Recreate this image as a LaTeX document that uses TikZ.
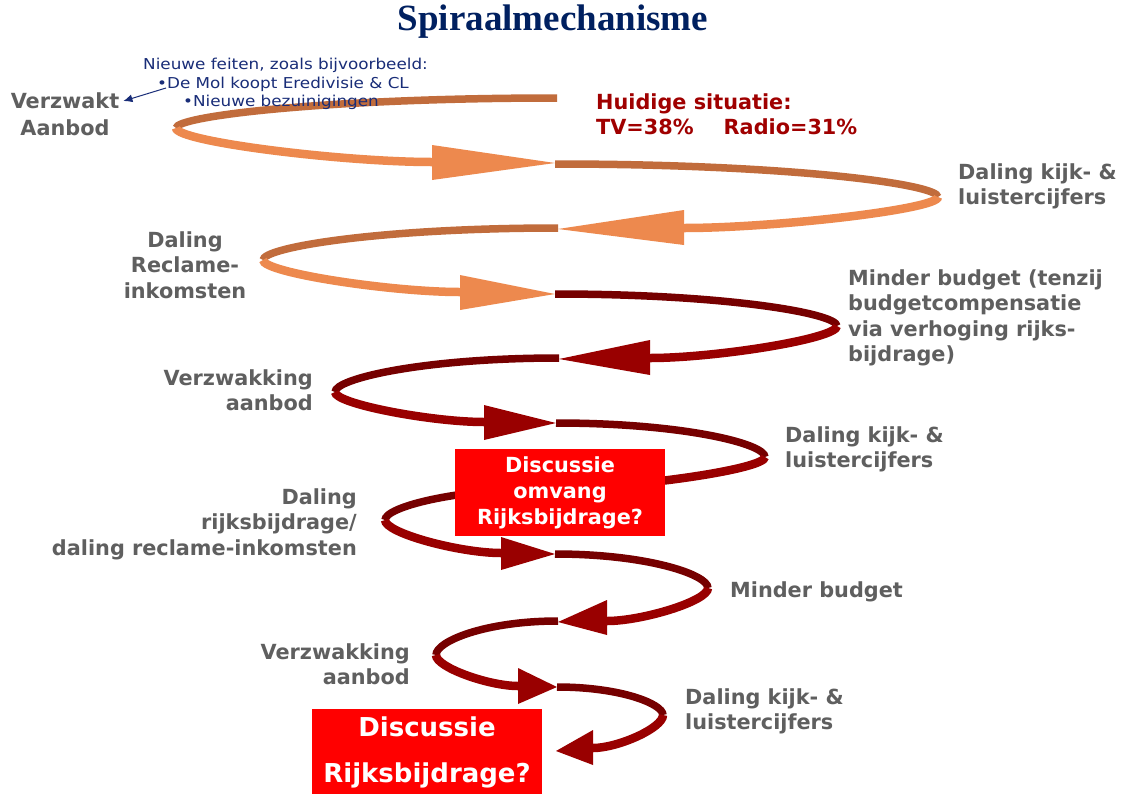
\documentclass[tikz,border=0pt]{standalone}
\usepackage{fontspec}
\usetikzlibrary{arrows.meta}
\newfontfamily\verd{DejaVu Sans}
\newfontfamily\annf{DejaVu Sans}[FakeStretch=1.12]
\newfontfamily\titf{Liberation Serif}
\definecolor{orF}{RGB}{237,137,78}
\definecolor{orB}{RGB}{193,108,60}
\definecolor{rdF}{RGB}{153,0,0}
\definecolor{rdB}{RGB}{118,0,0}
\definecolor{lblgray}{RGB}{95,95,95}
\definecolor{titblue}{RGB}{0,32,96}
\definecolor{annblue}{RGB}{25,45,120}
\definecolor{huidred}{RGB}{160,0,0}
\definecolor{boxred}{RGB}{255,0,0}
\tikzset{
  backband/.style={line width=7.5pt},
  frontband/.style={line width=8.5pt},
  lbl/.style={font=\verd\bfseries\fontsize{20.8}{25.5}\selectfont, text=lblgray, inner sep=0pt},
  redbox/.style={fill=boxred, text=white, align=center, inner sep=0pt,
    font=\verd\bfseries\fontsize{20.8}{26}\selectfont},
  ann/.style={font=\annf\fontsize{15}{18.5}\selectfont, text=annblue, inner sep=0pt},
  annarrow/.style={draw=annblue, line width=1pt, -{Latex[length=9pt,width=8pt]}},
  titlestyle/.style={font=\titf\bfseries\fontsize{37}{40}\selectfont, text=titblue, inner sep=0pt}
}
\begin{document}
\begin{tikzpicture}[x=1pt,y=-1pt]
\useasboundingbox (0,0) rectangle (1125,793);
\fill[white] (0,0) rectangle (1125,793);

% Loop 1 (orange, left)
\draw[backband, draw=orB] (557,98) .. controls (328.4,98) and (176,116) .. (176,128);
\draw[frontband, draw=orF] (176,128) .. controls (176,141.6) and (342,162) .. (432,162);
\fill[orF] (432,145) -- (555,163) -- (432,180) -- cycle;
% Loop 2 (orange, right)
\draw[backband, draw=orB] (555,164) .. controls (784.8,164) and (938,183.8) .. (938,197);
\draw[frontband, draw=orF] (938,197) .. controls (938,209.4) and (773,228) .. (684,228);
\fill[orF] (684,210) -- (558,229) -- (684,245) -- cycle;
% Loop 3 (orange, left)
\draw[backband, draw=orB] (558,228) .. controls (381,228) and (263,247.2) .. (263,260);
\draw[frontband, draw=orF] (263,260) .. controls (263,272.8) and (391,292) .. (460,292);
\fill[orF] (460,275) -- (555,294) -- (460,310) -- cycle;
% Loop 4 (red, right)
\draw[backband, draw=rdB] (555,294) .. controls (724.2,294) and (837,313.2) .. (837,326);
\draw[frontband, draw=rdF] (837,326) .. controls (837,338.8) and (715,358) .. (650,358);
\fill[rdF] (650,340) -- (559,359) -- (650,375) -- cycle;
% Loop 5 (red, left)
\draw[backband, draw=rdB] (559,358) .. controls (424.6,358) and (335,378.4) .. (335,392);
\draw[frontband, draw=rdF] (335,392) .. controls (335,404) and (432,422) .. (484,422);
\fill[rdF] (484,405) -- (556,423) -- (484,440) -- cycle;
% Loop 6 (red, right, ends under box)
\draw[backband, draw=rdB] (556,423) .. controls (681.4,423) and (765,443.4) .. (765,457);
\draw[frontband, draw=rdF] (765,457) .. controls (765,469.4) and (632,488) .. (560,488);
% Loop 7 (red, left)
\draw[backband, draw=rdB] (560,488) .. controls (455,488) and (385,507.2) .. (385,520);
\draw[frontband, draw=rdF] (385,520) .. controls (385,533.2) and (460,553) .. (501,553);
\fill[rdF] (501,537) -- (555,554) -- (501,570) -- cycle;
% Loop 8 (red, right)
\draw[backband, draw=rdB] (555,554) .. controls (646.8,554) and (708,574.4) .. (708,588);
\draw[frontband, draw=rdF] (708,588) .. controls (708,601.2) and (642,621) .. (607,621);
\fill[rdF] (607,600) -- (558,622) -- (607,635) -- cycle;
% Loop 9 (red, left)
\draw[backband, draw=rdB] (558,621) .. controls (484.8,621) and (436,641.4) .. (436,655);
\draw[frontband, draw=rdF] (436,655) .. controls (436,667.4) and (489,686) .. (518,686);
\fill[rdF] (518,668) -- (557,687) -- (518,704) -- cycle;
% Loop 10 (red, right)
\draw[backband, draw=rdB] (557,687) .. controls (620.6,687) and (663,703.8) .. (663,715);
\draw[frontband, draw=rdF] (663,715) .. controls (663,728.2) and (617.5,748) .. (593,748);
\fill[rdF] (593,730) -- (556,751) -- (593,765) -- cycle;

% Boxes
\node[redbox, minimum width=210pt, minimum height=87pt] (box1) at (560,492.5) {Discussie\\omvang\\Rijksbijdrage?};
\node[redbox, minimum width=230pt, minimum height=86pt,
      font=\verd\bfseries\fontsize{26}{46}\selectfont] (box2) at (427,752) {Discussie\\Rijksbijdrage?};

% Title
\node[titlestyle] (title) at (553,22) {Spiraalmechanisme};

% Labels
\node[lbl, align=center, anchor=north, font=\verd\bfseries\fontsize{20.8}{27}\selectfont] (verz) at (65,92) {Verzwakt\\Aanbod};
\node[lbl, text=huidred, align=left, anchor=north west] (huid) at (596,93) {Huidige situatie:\\TV=38\%\hspace{30pt}Radio=31\%};
\node[lbl, align=left, anchor=north west] (dk1) at (958,163) {Daling kijk- \&\\luistercijfers};
\node[lbl, align=center, anchor=north] (drk) at (185,231) {Daling\\Reclame-\\inkomsten};
\node[lbl, align=left, anchor=north west] (mb1) at (848,269) {Minder budget (tenzij\\budgetcompensatie\\via verhoging rijks-\\bijdrage)};
\node[lbl, align=right, anchor=north east] (vz1) at (313,369) {Verzwakking\\aanbod};
\node[lbl, align=left, anchor=north west] (dk2) at (785,426) {Daling kijk- \&\\luistercijfers};
\node[lbl, align=right, anchor=north east] (drb) at (357,488) {Daling\\rijksbijdrage/\\daling reclame-inkomsten};
\node[lbl, anchor=north west] (mb2) at (730,581) {Minder budget};
\node[lbl, align=right, anchor=north east] (vz2) at (410,643) {Verzwakking\\aanbod};
\node[lbl, align=left, anchor=north west] (dk3) at (685,688) {Daling kijk- \&\\luistercijfers};

% Annotation
\node[ann, align=left, anchor=north west] (ann) at (143,58) {Nieuwe feiten, zoals bijvoorbeeld:\\\hspace*{14pt}•De Mol koopt Eredivisie \& CL\\\hspace*{40pt}•Nieuwe bezuinigingen};
\coordinate (annstart) at (166,88);
\draw[annarrow] (annstart) -- ([shift={(4,9)}]verz.north east);
\end{tikzpicture}
\end{document}
